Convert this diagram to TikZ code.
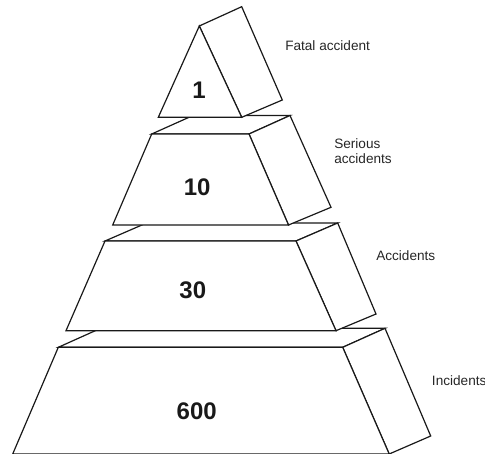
\documentclass[tikz,border=0pt]{standalone}
\usepackage{fontspec}
\setmainfont{Liberation Sans}
\begin{document}
\begin{tikzpicture}[x=0.75pt,y=-0.75pt,
  face/.style={line width=0.9pt, line join=miter, draw=black!90, fill=white},
  count/.style={font=\fontsize{18}{18}\selectfont\bfseries, inner sep=0pt, text=black!90},
  caption/.style={font=\fontsize{10.2}{11.3}\selectfont, inner sep=0pt, anchor=west, align=left, text=black!85}]
\useasboundingbox (0,0) rectangle (485,453);
\clip (0,0) rectangle (485,453);

% bottom block (cut by the lower border)
\path[face] (58.3,347.3) -- (342.7,347.3) -- (385,328.3) -- (100.6,328.3) -- cycle;
\path[face] (342.7,347.3) -- (385,328.3) -- (430.7,436) -- (389.2,454) -- cycle;
\path[face] (58.3,347.3) -- (342.7,347.3) -- (389.2,454) -- (12.7,454) -- cycle;

% third block
\path[face] (105,241) -- (296,241) -- (337.7,223) -- (146.5,223) -- cycle;
\path[face] (296,241) -- (337.7,223) -- (376,314) -- (336,330.7) -- cycle;
\path[face] (105,241) -- (296,241) -- (336,330.7) -- (66,330.7) -- cycle;

% second block
\path[face] (151.7,134) -- (249,134) -- (290,115.5) -- (193,115.5) -- cycle;
\path[face] (249,134) -- (290,115.5) -- (331,207.3) -- (288.5,225) -- cycle;
\path[face] (151.7,134) -- (249,134) -- (288.5,225) -- (112.7,225) -- cycle;

% top wedge
\path[face] (199.3,26) -- (241.7,6.7) -- (282.3,100) -- (241.7,117.3) -- cycle;
\path[face] (199.3,26) -- (241.7,117.3) -- (158.3,117.3) -- cycle;

% counts
\node[count] (n1) at (199,90.5) {1};
\node[count] (n10) at (197.2,187.5) {10};
\node[count] (n30) at (192.8,289.8) {30};
\node[count] (n600) at (196.7,410.8) {600};

% level names
\node[caption] (fatal) at (285,45.3) {Fatal accident};
\node[caption] (serious) at (334,150.8) {Serious\\accidents};
\node[caption] (acc) at (376,255.7) {Accidents};
\node[caption] (inc) at (431.7,380.5) {Incidents};
\end{tikzpicture}
\end{document}
